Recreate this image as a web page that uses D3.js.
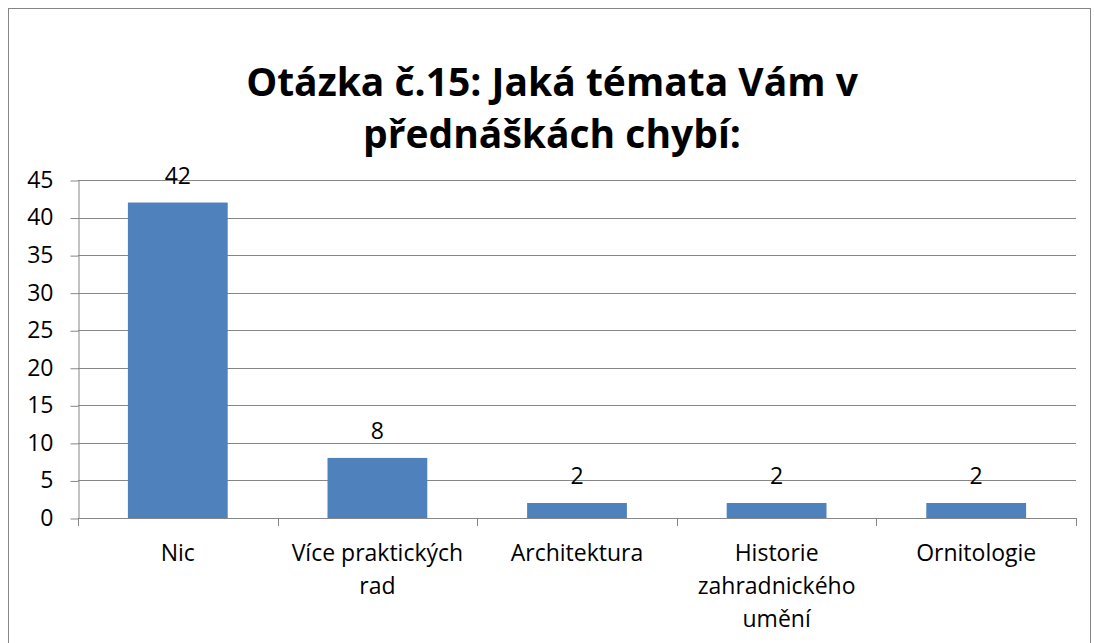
<!DOCTYPE html>
<html>
<head>
<meta charset="utf-8">
<script src="https://cdn.jsdelivr.net/npm/d3@7"></script>
<style>
  body { margin: 0; background: #fff; }
  text { font-family: "Open Sans", "Noto Sans", sans-serif; fill: #000; }
</style>
</head>
<body>
<script>
"use strict";

var categories = [["Nic"], ["Více praktických", "rad"], ["Architektura"], ["Historie", "zahradnického", "umění"], ["Ornitologie"]];
var values = [42, 8, 2, 2, 2];
var yTicks = [0, 5, 10, 15, 20, 25, 30, 35, 40, 45];
var titleLines = ["Otázka č.15: Jaká témata Vám v", "přednáškách chybí:"];

var width = 1094;
var height = 643;
var labelSize = "23px";

var margin = { top: 180, left: 78, right: 18, bottom: 125 };

var svg = d3.select("body").append("svg")
	.attr("width", width)
	.attr("height", height);

// chart border
svg.append("rect")
	.attr("x", 8.5).attr("y", 8.5)
	.attr("width", 1082).attr("height", 700)
	.attr("fill", "none")
	.attr("stroke", "#868686");

var keys = categories.map(function(d) { return d.join(" "); });

var xScale = d3.scaleBand()
	.domain(keys)
	.range([margin.left, width - margin.right])
	.paddingInner(0.5)
	.paddingOuter(0.25);

var xEdges = d3.scaleBand()
	.domain(keys)
	.range([margin.left, width - margin.right]);

var yScale = d3.scaleLinear()
	.domain([0, 45])
	.range([height - margin.bottom, margin.top]);

// gridlines
svg.append("g")
	.selectAll("line")
	.data(yTicks.slice(1))
	.enter()
	.append("line")
	.attr("x1", margin.left)
	.attr("x2", width - margin.right)
	.attr("y1", function(d) { return Math.round(yScale(d)) + 0.5; })
	.attr("y2", function(d) { return Math.round(yScale(d)) + 0.5; })
	.attr("stroke", "#868686");

// bars
svg.append("g")
	.selectAll("rect")
	.data(values)
	.enter()
	.append("rect")
	.attr("x", function(d, i) { return xScale(keys[i]); })
	.attr("width", xScale.bandwidth())
	.attr("y", function(d) { return yScale(d); })
	.attr("height", function(d) { return yScale(0) - yScale(d); })
	.attr("fill", "#4F81BD");

// value labels
svg.append("g")
	.selectAll("text")
	.data(values)
	.enter()
	.append("text")
	.attr("x", function(d, i) { return xScale(keys[i]) + xScale.bandwidth() / 2; })
	.attr("y", function(d) { return yScale(d) - 19; })
	.attr("text-anchor", "middle")
	.style("font-size", labelSize)
	.text(function(d) { return d; });

// y axis
var yAxis = svg.append("g")
	.attr("transform", "translate(" + (margin.left + 0.5) + ",0)")
	.call(d3.axisLeft(yScale).tickValues(yTicks).tickSize(8).tickPadding(17).tickSizeOuter(0));
yAxis.selectAll("text").style("font-size", labelSize).attr("fill", "#000")
	.attr("font-family", null);
yAxis.selectAll("line,path").attr("stroke", "#868686");
yAxis.selectAll(".tick line").attr("transform", "translate(0,0.5)");

// x axis line and tick marks at category edges
var xAxisG = svg.append("g");
xAxisG.append("line")
	.attr("x1", margin.left)
	.attr("x2", width - margin.right + 1)
	.attr("y1", Math.round(yScale(0)) + 0.5)
	.attr("y2", Math.round(yScale(0)) + 0.5)
	.attr("stroke", "#868686");
var edges = keys.map(function(k) { return xEdges(k); }).concat([width - margin.right]);
xAxisG.selectAll(".edge")
	.data(edges)
	.enter()
	.append("line")
	.attr("class", "edge")
	.attr("x1", function(d) { return Math.round(d) + 0.5; })
	.attr("x2", function(d) { return Math.round(d) + 0.5; })
	.attr("y1", yScale(0))
	.attr("y2", yScale(0) + 8)
	.attr("stroke", "#868686");

// category labels
var catText = xAxisG.selectAll(".cat")
	.data(categories)
	.enter()
	.append("text")
	.attr("class", "cat")
	.attr("text-anchor", "middle")
	.style("font-size", labelSize)
	.attr("transform", function(d, i) { return "translate(" + (xEdges(keys[i]) + xEdges.bandwidth() / 2) + "," + (yScale(0) + 43) + ")"; });
catText.selectAll("tspan")
	.data(function(d) { return d; })
	.enter()
	.append("tspan")
	.attr("x", 0)
	.attr("y", function(d, i) { return i * 33; })
	.text(function(d) { return d; });

// title
svg.append("text")
	.attr("text-anchor", "middle")
	.attr("x", 552)
	.style("font-size", "39px")
	.style("font-weight", "bold")
	.selectAll("tspan")
	.data(titleLines)
	.enter()
	.append("tspan")
	.attr("x", 552)
	.attr("y", function(d, i) { return 96 + i * 52; })
	.text(function(d) { return d; });
</script>
</body>
</html>
